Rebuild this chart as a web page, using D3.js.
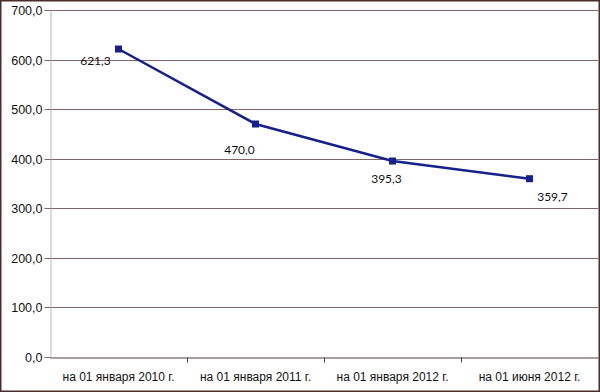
<!DOCTYPE html>
<html>
<head>
<meta charset="utf-8">
<script src="https://cdn.jsdelivr.net/npm/d3@7"></script>
<style>
  body { margin: 0; background: #fff; }
  svg { display: block; font-family: Lato, "Open Sans", "DejaVu Sans", sans-serif; }
</style>
</head>
<body>
<div id="holder"></div>
<script>
const categories = ["на 01 января 2010 г.", "на 01 января 2011 г.", "на 01 января 2012 г.", "на 01 июня 2012 г."];
const values = [621.3, 470.0, 395.3, 359.7];
const yTicks = [0, 100, 200, 300, 400, 500, 600, 700];
// hand-placed data label offsets (label centre relative to point), as in the original
const labelDx = [-23, -16, -6, 23];
const labelDy = [12, 26, 18, 18];

const width = 600;
const height = 392;
const margin = { top: 10, right: 2, bottom: 35, left: 50 };

const fmt = v => d3.format(".1f")(v).replace(".", ",");

const svg = d3.select("#holder")
    .append("svg")
    .attr("width", width)
    .attr("height", height);

svg.append("rect")
    .attr("x", 0.75).attr("y", 0.75)
    .attr("width", width - 1.5).attr("height", height - 1.5)
    .attr("fill", "#fff")
    .attr("stroke", "#4a2c2c")
    .attr("stroke-width", 1.5);

const xScale = d3.scaleBand()
    .domain(categories)
    .range([margin.left, width - margin.right]);

const yScale = d3.scaleLinear()
    .domain([0, 700])
    .range([height - margin.bottom, margin.top]);

// gridlines
svg.append("g")
    .selectAll("line")
    .data(yTicks.filter(d => d > 0))
    .enter()
    .append("line")
    .attr("x1", margin.left)
    .attr("x2", width - margin.right)
    .attr("y1", d => Math.round(yScale(d)) + 0.5)
    .attr("y2", d => Math.round(yScale(d)) + 0.5)
    .attr("stroke", "#866464")
    .attr("stroke-width", 1);

// y axis
const yAxis = d3.axisLeft(yScale)
    .tickValues(yTicks)
    .tickFormat(fmt)
    .tickSize(6)
    .tickPadding(2);

const gy = svg.append("g")
    .attr("transform", `translate(${margin.left + 0.5}, 0)`)
    .call(yAxis);
gy.select(".domain").attr("stroke", "#bdb5b5");
gy.selectAll(".tick line").attr("stroke", "#866464");
gy.selectAll(".tick text").attr("font-size", 12.5).attr("fill", "#111");
gy.selectAll(".tick").attr("transform", d => `translate(0,${Math.round(yScale(d)) + 0.5})`);

// x axis
const xAxis = d3.axisBottom(xScale)
    .tickSize(0)
    .tickPadding(15);

const gx = svg.append("g")
    .attr("transform", `translate(0, ${Math.round(yScale(0)) + 0.5})`)
    .call(xAxis);
gx.select(".domain").attr("stroke", "#5a3a3a");
gx.selectAll(".tick text").attr("font-size", 12).attr("fill", "#111");

// category separator ticks
gx.append("g")
    .selectAll("line")
    .data(categories.slice(1))
    .enter()
    .append("line")
    .attr("x1", d => Math.round(xScale(d)) + 0.5)
    .attr("x2", d => Math.round(xScale(d)) + 0.5)
    .attr("y1", 0)
    .attr("y2", 5)
    .attr("stroke", "#5a3a3a");

const cx = d => xScale(d) + xScale.bandwidth() / 2;
const points = categories.map((c, i) => [cx(c), yScale(values[i])]);

const line = d3.line();

svg.append("path")
    .attr("d", line(points))
    .attr("fill", "none")
    .attr("stroke", "#15208c")
    .attr("stroke-width", 2.5);

svg.append("g")
    .selectAll("rect")
    .data(points)
    .enter()
    .append("rect")
    .attr("x", d => d[0] - 3.5)
    .attr("y", d => d[1] - 3.5)
    .attr("width", 7)
    .attr("height", 7)
    .attr("fill", "#15208c");

svg.append("g")
    .selectAll("text")
    .data(points)
    .enter()
    .append("text")
    .attr("x", (d, i) => d[0] + labelDx[i])
    .attr("y", (d, i) => d[1] + labelDy[i])
    .attr("dy", "0.35em")
    .attr("text-anchor", "middle")
    .attr("font-size", 12)
    .attr("fill", "#111")
    .text((d, i) => fmt(values[i]));
</script>
</body>
</html>
